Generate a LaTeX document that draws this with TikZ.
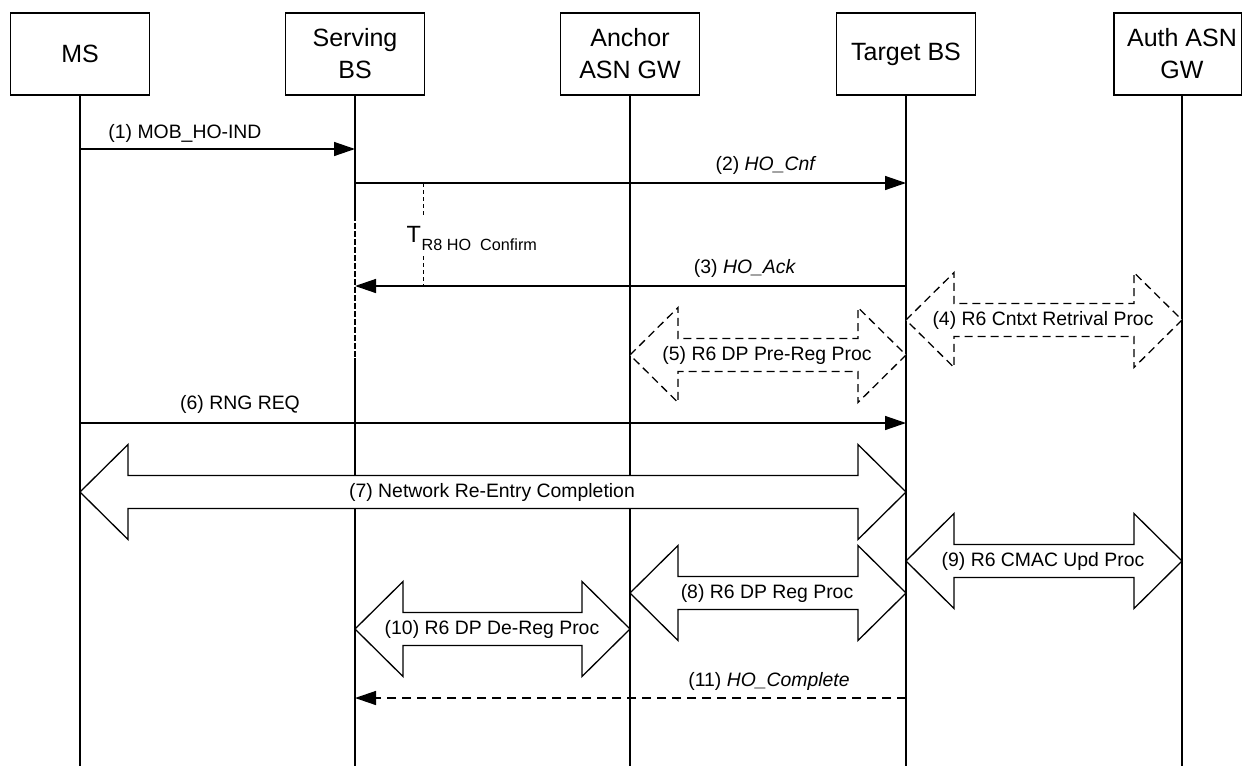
\documentclass[tikz,border=0pt]{standalone}
\usepackage{fontspec}
\setmainfont{Liberation Sans}
\usetikzlibrary{arrows.meta}

% Double-headed block arrow: style, left x, right x, centre y
\newcommand\bandarrow[4]{%
  \draw[#1] (#2,#4) -- ({#2+48},{#4-47.5}) -- ({#2+48},{#4-16.5})
    -- ({#3-48},{#4-16.5}) -- ({#3-48},{#4-47.5}) -- (#3,#4)
    -- ({#3-48},{#4+47.5}) -- ({#3-48},{#4+16.5})
    -- ({#2+48},{#4+16.5}) -- ({#2+48},{#4+47.5}) -- cycle;}

\begin{document}
\begin{tikzpicture}[x=1pt,y=-1pt,
  actor/.style={draw, line width=1.3pt, minimum width=139pt, minimum height=82pt,
    inner sep=0pt, align=center, font=\fontsize{25}{32}\selectfont},
  life/.style={line width=1.4pt},
  msg/.style={line width=1.4pt, -{Triangle[length=21pt,width=14pt]}},
  msgd/.style={msg, dash pattern=on 9pt off 6pt},
  lbl/.style={font=\fontsize{19.4}{23}\selectfont, inner sep=0pt},
  band/.style={draw, fill=white, line width=1.3pt, miter limit=10},
  bandd/.style={band, dash pattern=on 8pt off 5pt},
  timer/.style={line width=0.9pt, dash pattern=on 4pt off 3pt},
]
\useasboundingbox (0,0) rectangle (1243,766);

% participants
\node[actor] (ms) at (80,54) {MS};
\node[actor] (sbs) at (355,54) {Serving\\BS};
\node[actor] (agw) at (630,54) {Anchor\\ASN GW};
\node[actor] (tbs) at (906,54) {Target BS};
\node[actor, draw=none] (auth) at (1182,54) {Auth ASN\\GW};
\draw[line width=1.3pt] (1114,13) rectangle (1241.5,95);

% lifelines
\foreach \p in {ms,sbs,agw,tbs} {
  \coordinate (\p-end) at (\p.south |- 0,766);
  \draw[life] (\p.south) -- (\p-end);
}
\coordinate (auth-top) at (auth |- 0,95);
\coordinate (auth-end) at (auth |- 0,766);
\draw[life] (auth-top) -- (auth-end);

% serving BS timer segment on its lifeline
\coordinate (sbs-t1) at (sbs |- 0,215);
\coordinate (sbs-t2) at (sbs |- 0,358);
\draw[white, line width=1.8pt] (sbs-t1) -- (sbs-t2);
\draw[line width=1.3pt, dash pattern=on 6pt off 2pt] (sbs-t1) -- (sbs-t2);

% block arrows
\bandarrow{bandd}{906}{1182}{320}
\node[lbl] (l4) at (1043,320) {(4) R6 Cntxt Retrival Proc};
\bandarrow{bandd}{630}{906}{355}
\node[lbl] (l5) at (767,355) {(5) R6 DP Pre-Reg Proc};
\bandarrow{band}{80}{906}{492}
\node[lbl] (l7) at (492,492) {(7) Network Re-Entry Completion};
\bandarrow{band}{906}{1182}{561}
\node[lbl] (l9) at (1043,561) {(9) R6 CMAC Upd Proc};
\bandarrow{band}{630}{906}{593}
\node[lbl] (l8) at (767,593) {(8) R6 DP Reg Proc};
\bandarrow{band}{355}{630}{629}
\node[lbl] (l10) at (492,629) {(10) R6 DP De-Reg Proc};

% messages
\draw[msg] (ms |- 0,149) -- (sbs |- 0,149);
\node[lbl] (l1) at (185,133) {(1) MOB\_HO-IND};
\draw[msg] (sbs |- 0,183) -- (tbs |- 0,183);
\node[lbl] (l2) at (766,165) {(2) \textit{HO\_Cnf}};
\draw[msg] (tbs |- 0,286) -- (sbs |- 0,286);
\node[lbl] (l3) at (745,268) {(3) \textit{HO\_Ack}};
\draw[msg] (ms |- 0,423) -- (tbs |- 0,423);
\node[lbl] (l6) at (240,404) {(6) RNG REQ};
\draw[msgd] (tbs |- 0,698) -- (sbs |- 0,698);
\node[lbl] (l11) at (769,681) {(11) \textit{HO\_Complete}};

% timer T_R8 HO Confirm
\coordinate (ta) at (423,183);
\coordinate (tb) at (423,215);
\coordinate (tc) at (423,256);
\coordinate (td) at (423,286);
\draw[timer] (ta) -- (tb);
\draw[timer] (tc) -- (td);
\node[inner sep=0pt, anchor=base west, font=\fontsize{23.5}{26}\selectfont] (tT) at (406.5,242) {T};
\node[inner sep=0pt, anchor=base west, font=\fontsize{16.2}{18}\selectfont] (tsub) at (421.5,250) {R8 HO\ \ Confirm};
\end{tikzpicture}
\end{document}
